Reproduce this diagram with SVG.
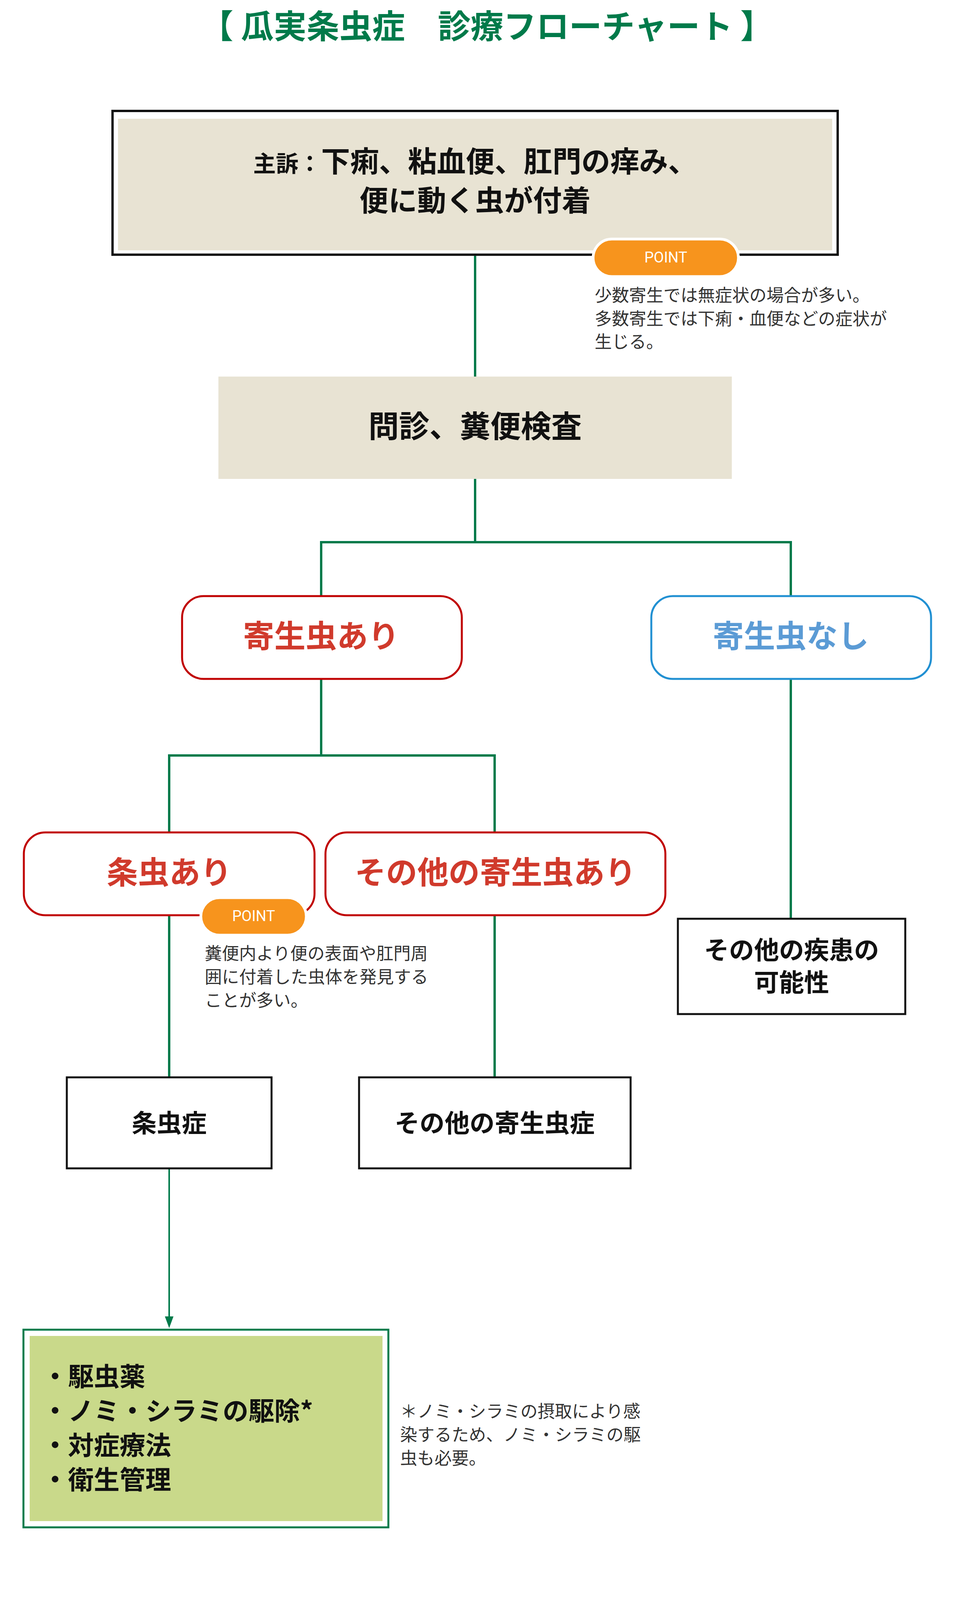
<svg xmlns="http://www.w3.org/2000/svg" width="2475" height="4242" viewBox="0 0 2475 4242">
<defs>
<style>
text{font-family:"Noto Sans CJK JP","Noto Sans",sans-serif}
.b{font-weight:bold;fill:#111}
.n{font-size:44px;fill:#333}
.red{fill:#fff;stroke:#c00000;stroke-width:5}
.blue{fill:#fff;stroke:#2190d2;stroke-width:5}
.box{fill:#fff;stroke:#111;stroke-width:5}
.ln{fill:none;stroke:#007a4a;stroke-width:6}
.pill{fill:#f7941d;stroke:#fff;stroke-width:7}
.pt{font-family:"Roboto","Liberation Sans",sans-serif;font-size:38px;fill:#fff;text-anchor:middle}
</style>
</defs>
<rect width="2475" height="4242" fill="#fff"/>
<text x="1246" y="98" text-anchor="middle" font-size="84" font-weight="bold" fill="#007a4a">【 瓜実条虫症　診療フローチャート 】</text>

<g id="connectors">
<path class="ln" d="M1216 654 V966"/>
<path class="ln" d="M1216 1226 V1388 M822 1525 V1388 H2024 V1525"/>
<path class="ln" d="M822 1738 V1934 M433 2130 V1934 H1266 V2130"/>
<path class="ln" d="M2024 1738 V2352"/>
<path class="ln" d="M433 2343 V2758 M1266 2343 V2758"/>
<path d="M433 2991 V3380" stroke="#007a4a" stroke-width="4" fill="none"/>
<path d="M422 3370 L444 3370 L433 3400 Z" fill="#007a4a"/>
</g>

<g id="n-complaint">
<rect x="288" y="284" width="1856" height="368" fill="#fff" stroke="#111" stroke-width="6"/>
<rect x="302" y="304" width="1828" height="337" fill="#e8e3d3"/>
<text x="1216" y="440" text-anchor="middle" class="b" font-size="74"><tspan font-size="58">主訴：</tspan>下痢、粘血便、肛門の痒み、</text>
<text x="1216" y="540" text-anchor="middle" class="b" font-size="74">便に動く虫が付着</text>
</g>
<g id="n-point1">
<rect class="pill" x="1518" y="612" width="372" height="96" rx="48"/>
<text class="pt" x="1704" y="672">POINT</text>
<text class="n" x="1522" y="772">少数寄生では無症状の場合が多い。</text>
<text class="n" x="1522" y="832">多数寄生では下痢・血便などの症状が</text>
<text class="n" x="1522" y="891">生じる。</text>
</g>
<g id="n-exam">
<rect x="559" y="964" width="1314" height="262" fill="#e8e3d3"/>
<text x="1216" y="1120" text-anchor="middle" class="b" font-size="78">問診、糞便検査</text>
</g>
<g id="n-yes">
<rect class="red" x="466" y="1526" width="716" height="212" rx="55"/>
<text x="822" y="1657" text-anchor="middle" font-size="80" font-weight="bold" fill="#d03a2c">寄生虫あり</text>
</g>
<g id="n-no">
<rect class="blue" x="1667" y="1526" width="716" height="212" rx="55"/>
<text x="2024" y="1657" text-anchor="middle" font-size="80" font-weight="bold" fill="#5b9bd5">寄生虫なし</text>
</g>
<g id="n-tape">
<rect class="red" x="61" y="2131" width="744" height="212" rx="55"/>
<text x="433" y="2262" text-anchor="middle" font-size="80" font-weight="bold" fill="#d03a2c">条虫あり</text>
</g>
<g id="n-other">
<rect class="red" x="833" y="2131" width="870" height="212" rx="55"/>
<text x="1268" y="2262" text-anchor="middle" font-size="80" font-weight="bold" fill="#d03a2c">その他の寄生虫あり</text>
</g>
<g id="n-point2">
<rect class="pill" x="514" y="2298" width="270" height="96" rx="48"/>
<text class="pt" x="649" y="2358">POINT</text>
<text class="n" x="524" y="2457">糞便内より便の表面や肛門周</text>
<text class="n" x="524" y="2517">囲に付着した虫体を発見する</text>
<text class="n" x="524" y="2577">ことが多い。</text>
</g>
<g id="n-disease">
<rect class="box" x="1735" y="2352" width="582" height="244"/>
<text x="2026" y="2455" text-anchor="middle" class="b" font-size="64">その他の疾患の</text>
<text x="2026" y="2538" text-anchor="middle" class="b" font-size="64">可能性</text>
</g>
<g id="n-tapedx">
<rect class="box" x="171" y="2758" width="524" height="233"/>
<text x="433" y="2898" text-anchor="middle" class="b" font-size="64">条虫症</text>
</g>
<g id="n-otherdx">
<rect class="box" x="919" y="2758" width="695" height="233"/>
<text x="1266" y="2898" text-anchor="middle" class="b" font-size="64">その他の寄生虫症</text>
</g>
<g id="n-treat">
<rect x="60" y="3404" width="934" height="506" fill="#fff" stroke="#007a4a" stroke-width="5"/>
<rect x="76" y="3420" width="903" height="474" fill="#c9d98a"/>
<text class="b" font-size="66" x="108" y="3548">・駆虫薬</text>
<text class="b" font-size="66" x="108" y="3636">・ノミ・シラミの駆除*</text>
<text class="b" font-size="66" x="108" y="3724">・対症療法</text>
<text class="b" font-size="66" x="108" y="3812">・衛生管理</text>
</g>
<g id="n-note3">
<text class="n" x="1024" y="3629">＊ノミ・シラミの摂取により感</text>
<text class="n" x="1024" y="3689">染するため、ノミ・シラミの駆</text>
<text class="n" x="1024" y="3749">虫も必要。</text>
</g>
<g id="footer">
<text class="n" x="215" y="4140">「診療フローチャート」は、一般的な獣医療における診断・治療方法を図式化したものです。</text>
<text class="n" x="215" y="4194">ご意見等はコメント欄からお聞かせください。</text>
</g>
</svg>
